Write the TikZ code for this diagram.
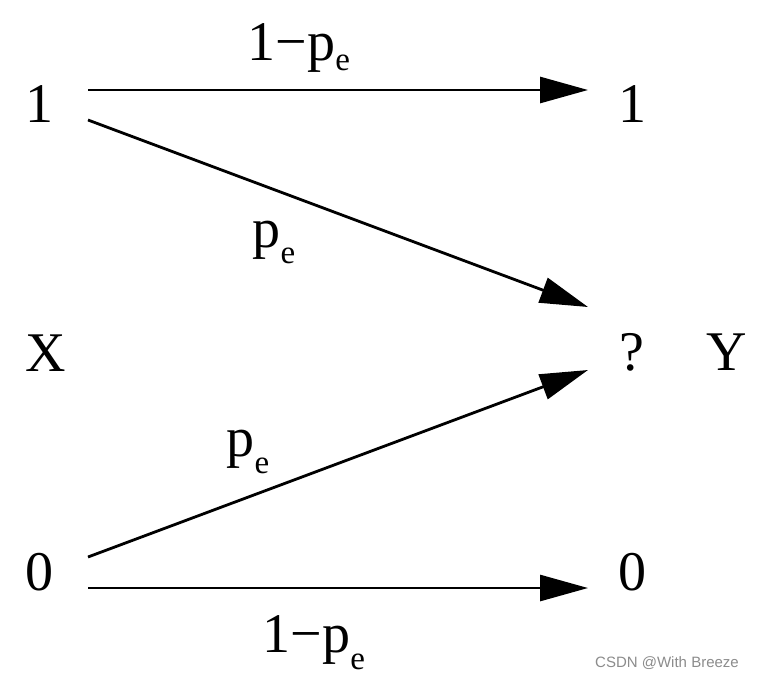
\documentclass[tikz,border=0pt]{standalone}
\usepackage{fontspec}
\setmainfont{Liberation Serif}
\newfontfamily\wmfont{Liberation Sans}
\usetikzlibrary{arrows.meta}
\newcommand{\subE}[1]{\raisebox{-#1pt}{\fontsize{33}{33}\selectfont e}}
\begin{document}
\begin{tikzpicture}[x=1pt,y=-1pt,
  sym/.style={inner sep=0pt, anchor=base, font=\fontsize{56}{56}\selectfont},
  lab/.style={inner sep=0pt, anchor=base, font=\fontsize{56}{56}\selectfont},
  edge/.style={line width=2.8pt, -{Triangle[length=48pt,width=26pt]}},
  wm/.style={inner sep=0pt, anchor=base west, text=black!45, font=\wmfont\fontsize{15}{15}\selectfont}]
\useasboundingbox (0,0) rectangle (759,678);
\fill[white] (0,0) rectangle (759,678);
% symbols
\node[sym] (x1) at (39,122) {1};
\node[sym] (y1) at (632,122) {1};
\node[sym] (X) at (46,371) {X};
\node[sym] (q) at (632,370) {?};
\node[sym] (Y) at (727,370) {Y};
\node[sym] (x0) at (39,590) {0};
\node[sym] (y0) at (632,590) {0};
% connector endpoints
\coordinate (a1) at (88,90);
\coordinate (b1) at (588,90);
\coordinate (a2) at (88,120);
\coordinate (b2) at (588,307);
\coordinate (a3) at (88,557);
\coordinate (b3) at (588,370);
\coordinate (a4) at (88,588);
\coordinate (b4) at (588,588);
\draw[edge] (a1) -- (b1);
\draw[edge] (a2) -- (b2);
\draw[edge] (a3) -- (b3);
\draw[edge] (a4) -- (b4);
% labels
\node[lab] (l1) at (299,60) {1−p\subE{10}};
\node[lab] (l2) at (274,247) {p\subE{16}};
\node[lab] (l3) at (248,456) {p\subE{17}};
\node[lab] (l4) at (314,652) {1−p\subE{17}};
\node[wm] (wm) at (595,667) {CSDN @With Breeze};
\end{tikzpicture}
\end{document}
